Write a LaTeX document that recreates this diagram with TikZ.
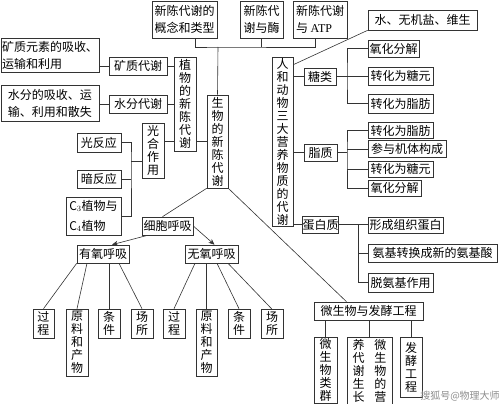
\documentclass[tikz,border=0pt]{standalone}
\usepackage{fontspec}
\setmainfont{Noto Sans CJK SC}
\newfontfamily\latinfont{Liberation Serif}
\usepackage{tikz}
\usetikzlibrary{arrows.meta, positioning, calc}

\begin{document}
\begin{tikzpicture}[x=1pt, y=-1pt,
  box/.style={rectangle, draw=black!80, fill=white, line width=0.6pt, inner sep=0pt,
              align=center, font=\fontsize{12}{13}\selectfont},
  two/.style={font=\fontsize{12}{17}\selectfont},
  sz/.style 2 args={minimum width=#1pt, minimum height=#2pt},
  ln/.style={draw=black!80, line width=0.6pt},
  arr/.style={ln, -{Stealth[length=6pt, width=5pt]}}
]
\useasboundingbox (0,0) rectangle (499,404);

% top row
\node[box, two, sz={65}{37}] (conc) at (184.5,19.5) {新陈代谢的\\概念和类型};
\node[box, two, sz={43}{37}] (enz) at (261.5,19.5) {新陈代\\谢与酶};
\node[box, two, sz={54}{37}, align=left] (atp) at (320,19.5) {新陈代谢\\与 {\latinfont ATP}};

% centre column
\node[box, sz={21}{93}] (bio) at (217.5,141.5) {生\\物\\的\\新\\陈\\代\\谢};
\node[box, sz={22}{94}] (plant) at (185,104) {植\\物\\的\\新\\陈\\代\\谢};
\node[box, sz={21}{169}] (anim) at (282.5,141.5) {人\\和\\动\\物\\三\\大\\营\\养\\物\\质\\的\\代\\谢};

% plant side
\node[box, two, sz={98}{34}, align=left] (minabs) at (50,55) {矿质元素的吸收、\\运输和利用};
\node[box, two, sz={98}{36}, align=left] (watabs) at (50,103) {水分的吸收、运\\输、利用和散失};
\node[box, sz={58}{18}] (minmet) at (138,66) {矿质代谢};
\node[box, sz={58}{18}] (watmet) at (138,104) {水分代谢};
\node[box, sz={22}{55}] (photo) at (153,150.5) {光\\合\\作\\用};
\node[box, sz={44}{19}] (light) at (99,142.5) {光反应};
\node[box, sz={44}{18}] (dark) at (99,179) {暗反应};
\node[box, sz={55}{38}, font=\fontsize{12}{20}\selectfont, align=left] (cthree) at (93.5,216) {C$_3$植物与\\C$_4$植物};

% respiration
\node[box, sz={51}{18}] (resp) at (167.5,226) {细胞呼吸};
\node[box, sz={52}{18}] (aer) at (103,254) {有氧呼吸};
\node[box, sz={53}{18}] (ana) at (211.5,254) {无氧呼吸};
\node[box, sz={21}{29}] (aer1) at (43.5,323.5) {过\\程};
\node[box, sz={22}{67}] (aer2) at (77,342.5) {原\\料\\和\\产\\物};
\node[box, sz={22}{29}] (aer3) at (109,323.5) {条\\件};
\node[box, sz={22}{29}] (aer4) at (142,323.5) {场\\所};
\node[box, sz={22}{29}] (ana1) at (174,323.5) {过\\程};
\node[box, sz={21}{67}] (ana2) at (206.5,342.5) {原\\料\\和\\产\\物};
\node[box, sz={22}{29}] (ana3) at (239,323.5) {条\\件};
\node[box, sz={22}{29}] (ana4) at (272,324) {场\\所};

% animal side
\node[box, sz={109}{20}] (water) at (422.5,20) {水、无机盐、维生};
\node[box, sz={32}{17}] (sugar) at (320,76.5) {糖类};
\node[box, sz={51}{17}] (sug1) at (393.5,48.5) {氧化分解};
\node[box, sz={65}{18}] (sug2) at (400.5,76) {转化为糖元};
\node[box, sz={65}{19}] (sug3) at (400.5,103.5) {转化为脂肪};
\node[box, sz={33}{17}] (lipid) at (320.5,152.5) {脂质};
\node[box, sz={65}{16}] (lip1) at (400.5,130.5) {转化为脂肪};
\node[box, sz={78}{17}] (lip2) at (407,149) {参与机体构成};
\node[box, sz={65}{16}] (lip3) at (400.5,169) {转化为糖元};
\node[box, sz={53}{16}] (lip4) at (394.5,188) {氧化分解};
\node[box, sz={33}{17}] (prot) at (320.5,224.5) {蛋白质};
\node[box, sz={75}{16}] (prot1) at (405.5,225) {形成组织蛋白};
\node[box, sz={129}{18}] (prot2) at (432.5,253) {氨基转换成新的氨基酸};
\node[box, sz={65}{19}] (prot3) at (400.5,282.5) {脱氨基作用};

% microbes
\node[box, sz={109}{18}] (micro) at (368.5,311) {微生物与发酵工程};
\node[box, sz={23}{66}] (mic1) at (325.5,370) {微\\生\\物\\类\\群};
\node[box, sz={45}{67}] (mic2) at (369.5,370.5) {养\hspace{10pt}微\\代\hspace{10pt}生\\谢\hspace{10pt}物\\生\hspace{10pt}的\\长\hspace{10pt}营};
\node[box, sz={22}{60}] (mic3) at (411,367) {发\\酵\\工\\程};
\node[font=\fontsize{10}{10}\selectfont, text=black!45] (mark) at (460,396) {搜狐号@物理大师};

% connectors, top
\coordinate (bus) at (218,47);
\draw[ln] ([xshift=10.5pt]conc.south) |- (bus) -| ([xshift=-5pt]atp.south);
\draw[ln] (enz.south) -- (enz.south |- bus);
\draw[ln] (bus) -- (bio.north);

% plant
\draw[ln] (minabs.east |- minmet) -- (minmet.west);
\draw[ln] (watabs.east |- watmet) -- (watmet.west);
\draw[ln] (minmet.east) -- (minmet.east -| plant.west);
\draw[ln] (watmet.east) -- (watmet.east -| plant.west);
\draw[ln] (photo.east |- bio) -- (plant.west |- bio);
\draw[ln] (plant.east |- bio) -- (bio.west);
\coordinate (pj) at (131,161);
\draw[ln] (photo.west |- pj) -- (pj);
\draw[ln] (light.east) -| (pj) |- (cthree.east);
\draw[ln] (dark.east) -- (dark.east -| pj);

% respiration
\draw[ln] (bio.south west) -- ([xshift=-5pt]resp.north);
\draw[arr] ([xshift=6pt]resp.south west) -- ([xshift=9pt]aer.north);
\draw[arr] (resp.east) -- ([xshift=3pt]ana.north);
\draw[ln] (aer.south west) -- (aer1.north);
\draw[ln] ([xshift=-16pt]aer.south) -- (aer2.north);
\draw[ln] ([xshift=6pt]aer.south) -- (aer3.north);
\draw[ln] ([xshift=16pt]aer.south) -- (aer4.north);
\draw[ln] ([xshift=-16.5pt]ana.south) -- (ana1.north);
\draw[ln] ([xshift=-5pt]ana.south) -- (ana2.north);
\draw[ln] ([xshift=5.5pt]ana.south) -- (ana3.north);
\draw[ln] ([xshift=16.5pt]ana.south) -- (ana4.north);

% animal
\draw[ln] ([yshift=-8pt]anim.north east) -- (water.south west);
\draw[ln] (anim.east |- sugar) -- (sugar.west);
\coordinate (sj) at (347,76.5);
\draw[ln] (sugar.east) -- (sj);
\draw[ln] (sug1.west) -| (sj) |- (sug3.west);
\draw[ln] (sug2.west) -- (sug2.west -| sj);
\draw[ln] (anim.east |- lipid) -- (lipid.west);
\coordinate (lj) at (347,152.5);
\draw[ln] (lipid.east) -- (lj);
\draw[ln] (lip1.west) -| (lj) |- (lip4.west);
\draw[ln] (lip2.west) -- (lip2.west -| lj);
\draw[ln] (lip3.west) -- (lip3.west -| lj);
\draw[ln] (anim.east |- prot) -- (prot.west);
\coordinate (qj) at (358,224.5);
\draw[ln] (prot.east) -- (prot1.west |- prot.east);
\draw[ln] (qj) |- (prot3.west);
\draw[ln] (prot2.west) -- (prot2.west -| qj);

% microbes
\draw[ln] (bio.south east) -- ([xshift=-22pt]micro.north);
\draw[ln] (mic1.north) -- (mic1.north |- micro.south);
\draw[ln] (mic2.north) -- (mic2.north |- micro.south);
\draw[ln] (mic3.north) -- (mic3.north |- micro.south);
\end{tikzpicture}
\end{document}
